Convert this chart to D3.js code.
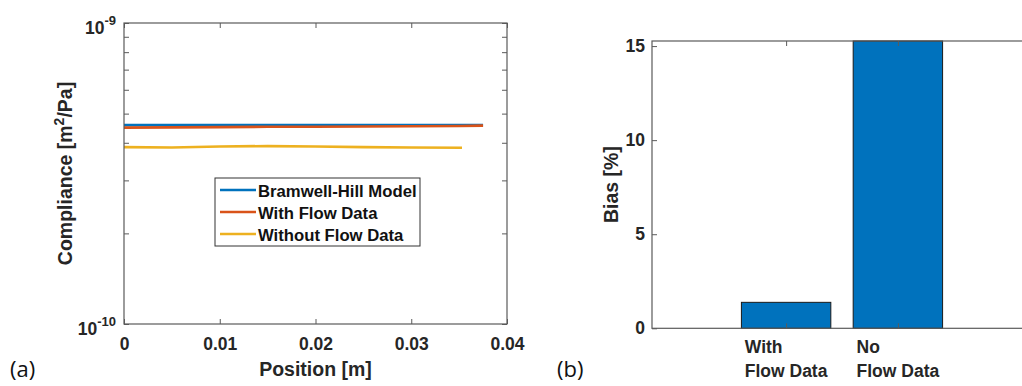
<!DOCTYPE html>
<html><head><meta charset="utf-8">
<script src="https://cdn.jsdelivr.net/npm/d3@7"></script>
<style>
body{margin:0;background:#fff}
svg{display:block}
text{font-family:"Liberation Sans",Arial,sans-serif}
</style>
</head><body>
<svg id="c" width="1022" height="386"></svg>
<script>
// ---------- data ----------
const positionBH = [0, 0.005, 0.01, 0.015, 0.02, 0.025, 0.03, 0.035, 0.0375];
const complianceBH = [4.58e-10, 4.58e-10, 4.58e-10, 4.58e-10, 4.58e-10, 4.58e-10, 4.58e-10, 4.58e-10, 4.58e-10];
const positionFlow = [0, 0.005, 0.01, 0.015, 0.02, 0.025, 0.03, 0.035, 0.0375];
const complianceFlow = [4.49e-10, 4.50e-10, 4.51e-10, 4.52e-10, 4.52e-10, 4.53e-10, 4.54e-10, 4.55e-10, 4.56e-10];
const positionNoFlow = [0, 0.005, 0.01, 0.015, 0.02, 0.025, 0.03, 0.0353];
const complianceNoFlow = [3.87e-10, 3.86e-10, 3.89e-10, 3.90e-10, 3.89e-10, 3.87e-10, 3.86e-10, 3.85e-10];
const seriesNames = ["Bramwell-Hill Model", "With Flow Data", "Without Flow Data"];
const seriesColors = ["#0072BD", "#D95319", "#EDB120"];
const xTicksA = [0, 0.01, 0.02, 0.03, 0.04];
const yMajorA = [1e-10, 1e-9];
const yMajorExp = ["-10", "-9"];

const barCategories = [["With", "Flow Data"], ["No", "Flow Data"]];
const barPositions = [1, 2];
const biasValues = [1.38, 15.27];
const yTicksB = [0, 5, 10, 15];

// ---------- setup ----------
const svg = d3.select("#c");
const axisCol = "#5a5a5a", textCol = "#262626";
const tickFont = 17.5, labelFont = 19.5;

function styleAxis(g){
  g.select(".domain").remove();
  g.selectAll(".tick line").attr("stroke", axisCol);
  g.selectAll(".tick text").attr("fill", textCol)
    .style("font-size", tickFont + "px").style("font-weight", "bold")
    .style("font-family", '"Liberation Sans",Arial,sans-serif');
}

// ================= Panel (a) =================
const A = {l:124, r:507, t:23, b:324};
const xA = d3.scaleLinear().domain([0, 0.04]).range([A.l, A.r]);
const yA = d3.scaleLog().domain([1e-10, 1e-9]).range([A.b, A.t]);

const gA = svg.append("g");
const seriesA = [
  {x: positionBH, y: complianceBH},
  {x: positionFlow, y: complianceFlow},
  {x: positionNoFlow, y: complianceNoFlow}
];
const lineA = d3.line().x(d => xA(d[0])).y(d => yA(d[1]));
seriesA.forEach((s, i) => {
  gA.append("path")
    .datum(s.x.map((v, k) => [v, s.y[k]]))
    .attr("d", lineA).attr("fill", "none")
    .attr("stroke", seriesColors[i]).attr("stroke-width", 2.6);
});

gA.append("g").attr("transform", `translate(0,${A.b})`)
  .call(d3.axisBottom(xA).tickValues(xTicksA).tickSizeInner(-5).tickSizeOuter(0).tickPadding(13.5)
    .tickFormat(d => d === 0 ? "0" : d3.format(".2f")(d)))
  .call(styleAxis);
gA.append("g").attr("transform", `translate(0,${A.t})`)
  .call(d3.axisTop(xA).tickValues(xTicksA).tickSizeInner(-5).tickSizeOuter(0).tickFormat(""))
  .call(styleAxis);
gA.append("g").attr("transform", `translate(${A.l},0)`)
  .call(d3.axisLeft(yA).tickValues(yA.ticks()).tickSizeInner(-5).tickSizeOuter(0).tickFormat(""))
  .call(styleAxis);
gA.append("g").attr("transform", `translate(${A.r},0)`)
  .call(d3.axisRight(yA).tickValues(yA.ticks()).tickSizeInner(-5).tickSizeOuter(0).tickFormat(""))
  .call(styleAxis);
gA.append("rect").attr("x", A.l).attr("y", A.t).attr("width", A.r - A.l).attr("height", A.b - A.t)
  .attr("fill", "none").attr("stroke", axisCol).attr("stroke-width", 1.2);

yMajorA.forEach((v, i) => {
  const t = gA.append("text").attr("x", A.l - 8).attr("y", yA(v) + 10.5)
    .attr("text-anchor", "end").attr("fill", textCol)
    .style("font-size", tickFont + "px").style("font-weight", "bold");
  t.append("tspan").text("10");
  t.append("tspan").attr("dy", -8.5).style("font-size", "13px").text(yMajorExp[i]);
});

gA.append("text").attr("x", (A.l + A.r) / 2).attr("y", 376).attr("text-anchor", "middle")
  .attr("fill", textCol).style("font-size", labelFont + "px").style("font-weight", "bold")
  .text("Position [m]");
const yl = gA.append("text").attr("transform", `translate(72,${(A.t + A.b) / 2}) rotate(-90)`)
  .attr("text-anchor", "middle").attr("fill", textCol)
  .style("font-size", labelFont + "px").style("font-weight", "bold");
yl.append("tspan").text("Compliance [m");
yl.append("tspan").attr("dy", -8).style("font-size", "14px").text("2");
yl.append("tspan").attr("dy", 8).text("/Pa]");

const L = {x:215, y:178, w:205, h:68};
gA.append("rect").attr("x", L.x).attr("y", L.y).attr("width", L.w).attr("height", L.h)
  .attr("fill", "#fff").attr("stroke", "#333").attr("stroke-width", 1);
seriesNames.forEach((n, i) => {
  const yy = L.y + 12 + i * 22;
  gA.append("line").attr("x1", L.x + 5).attr("x2", L.x + 41).attr("y1", yy).attr("y2", yy)
    .attr("stroke", seriesColors[i]).attr("stroke-width", 2.6);
  gA.append("text").attr("x", L.x + 43).attr("y", yy + 6.5).attr("fill", "#111")
    .style("font-size", "16.7px").style("font-weight", "bold").text(n);
});

svg.append("text").attr("x", 10).attr("y", 377).attr("fill", "#111")
  .style("font-family", '"Open Sans",sans-serif').style("font-size", "22px").text("(a)");

// ================= Panel (b) =================
const B = {l:652, r:1032, t:41, b:328.3};
const xB = d3.scaleLinear().domain([-0.2, 3.2]).range([B.l, B.r]);
const yB = d3.scaleLinear().domain([0, d3.max(biasValues)]).range([B.b, B.t]);
const barW = xB(0.8) - xB(0);

const gB = svg.append("g");
gB.selectAll("rect.bar").data(biasValues).join("rect").attr("class", "bar")
  .attr("x", (d, i) => xB(barPositions[i]) - barW / 2)
  .attr("y", d => yB(d)).attr("width", barW).attr("height", d => yB(0) - yB(d))
  .attr("fill", "#0072BD").attr("stroke", "#1a1a1a").attr("stroke-width", 1);

gB.append("g").attr("transform", `translate(0,${B.b})`)
  .call(d3.axisBottom(xB).tickValues(barPositions).tickSizeInner(-5).tickSizeOuter(0).tickFormat(""))
  .call(styleAxis);
gB.append("g").attr("transform", `translate(0,${B.t})`)
  .call(d3.axisTop(xB).tickValues(barPositions).tickSizeInner(-5).tickSizeOuter(0).tickFormat(""))
  .call(styleAxis);
gB.append("g").attr("transform", `translate(${B.l},0)`)
  .call(d3.axisLeft(yB).tickValues(yTicksB).tickSizeInner(-5).tickSizeOuter(0).tickPadding(7))
  .call(styleAxis);
gB.append("rect").attr("x", B.l).attr("y", B.t).attr("width", B.r - B.l).attr("height", B.b - B.t)
  .attr("fill", "none").attr("stroke", axisCol).attr("stroke-width", 1.2);

barCategories.forEach((lines, i) => {
  const cx = xB(barPositions[i]);
  const t = gB.append("text").attr("fill", textCol)
    .style("font-size", tickFont + "px").style("font-weight", "bold");
  const spans = lines.map((s, k) => t.append("tspan").attr("y", 353.3 + k * 24).text(s));
  const w = d3.max(spans, sp => sp.node().getComputedTextLength());
  spans.forEach(sp => sp.attr("x", cx - w / 2));
});

gB.append("text").attr("transform", `translate(618,${(B.t + B.b) / 2}) rotate(-90)`)
  .attr("text-anchor", "middle").attr("fill", textCol)
  .style("font-size", labelFont + "px").style("font-weight", "bold").text("Bias [%]");

svg.append("text").attr("x", 557).attr("y", 377).attr("fill", "#111")
  .style("font-family", '"Open Sans",sans-serif').style("font-size", "22px").text("(b)");
</script>
</body></html>
